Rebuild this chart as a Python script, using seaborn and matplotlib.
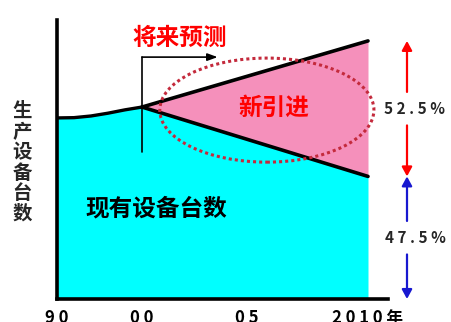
import numpy as np
import matplotlib
matplotlib.use("Agg")
import matplotlib.pyplot as plt
import seaborn as sns
from matplotlib.patches import Ellipse
from matplotlib.transforms import blended_transform_factory

# Installed equipment index (top of the axis = 100)
hist_years = [1990, 1992, 1994, 1996, 1998, 2000]
hist_units = [64.9, 65.0, 65.6, 66.6, 67.8, 68.8]
proj_years = [2000, 2010]
total_2010 = 92.5
existing_share = 47.5   # % of 2010 base still made of existing equipment
new_share = 52.5        # % of 2010 base newly introduced
tick_years = [1990, 2000, 2005, 2010]
tick_labels = ["9 0", "0 0", "0 5", "2 0 1 0 年"]
ylabel = "生产设备台数"

existing_2010 = total_2010 * existing_share / 100
base_2000 = hist_units[-1]
proj_total = [base_2000, total_2010]
proj_existing = [base_2000, existing_2010]

sns.set_style("white")
plt.rcParams["font.family"] = ["Noto Sans CJK SC", "DejaVu Sans"]

W, H = 451, 322
fig = plt.figure(figsize=(W / 100, H / 100), dpi=100)
ax = fig.add_axes([57 / W, 23 / H, 331 / W, 279 / H])

# time axis: the past decade is compressed, the forecast period stretched
axis_years = [1980, 1990, 2000, 2005, 2010, 2020]
axis_pos = [-85, 0, 85, 190, 311, 553]
ax.set_xscale("function",
              functions=(lambda x: np.interp(x, axis_years, axis_pos),
                         lambda p: np.interp(p, axis_pos, axis_years)))
ax.set_xlim(1990, 2010 + 20 / 24.2)
ax.set_ylim(0, 100)

CYAN = "#00FFFF"
PINK = "#F590BB"
RED = "#FF0000"
BLUE = "#1818D0"

# existing equipment area
ex_years = hist_years + proj_years[1:]
ex_units = hist_units + [existing_2010]
ax.fill_between(ex_years, 0, ex_units, color=CYAN, lw=0, zorder=1)
# newly introduced equipment area
ax.fill_between(proj_years, proj_existing, proj_total, color=PINK, lw=0, zorder=1)

sns.lineplot(x=hist_years, y=hist_units, ax=ax, color="black", lw=2.4,
             sort=False, zorder=3)
sns.lineplot(x=proj_years, y=proj_total, ax=ax, color="black", lw=2.6,
             sort=False, zorder=3)
sns.lineplot(x=proj_years, y=proj_existing, ax=ax, color="black", lw=2.6,
             sort=False, zorder=3)

# forecast marker
ax.plot([2000, 2000], [52.7, 86.7], color="black", lw=1.2, zorder=4)
ax.annotate("", xy=(2003.6, 86.7), xytext=(2000, 86.7),
            arrowprops=dict(arrowstyle="-|>,head_length=0.6,head_width=0.22",
                            color="black", lw=1.2, shrinkA=0, shrinkB=0),
            zorder=4)

# dotted highlight around the new-equipment wedge
ax.add_patch(Ellipse((0.634, 0.677), 0.647, 0.373, transform=ax.transAxes,
                     fill=False, ec="#C42A3C", lw=2.2, ls=(0, (1, 1.0)),
                     zorder=5, clip_on=False))

# axes styling
for side in ("top", "right"):
    ax.spines[side].set_visible(False)
for side in ("left", "bottom"):
    ax.spines[side].set_linewidth(2.6)
    ax.spines[side].set_color("black")
    ax.spines[side].set_zorder(6)

ax.set_xticks(tick_years)
ax.set_xticklabels(tick_labels, fontsize=12, fontweight="bold")
ax.tick_params(axis="x", direction="in", length=7, width=1.3, pad=7,
               colors="black")
ticks = ax.xaxis.get_major_ticks()
for i in (0, len(ticks) - 1):
    ticks[i].tick1line.set_visible(False)
ax.set_yticks([29.4, 55.2])
ax.set_yticklabels([])
ax.tick_params(axis="y", direction="in", length=3, width=1.0, colors="black")

# labels
fig.text(22 / W, 1 - 163 / H, "\n".join(ylabel), fontsize=14,
         fontweight="bold", ha="center", va="center", linespacing=1.1)
fig.text(180 / W, 1 - 38 / H, "将来预测", color=RED, fontsize=17,
         fontweight="bold", ha="center", va="center")
fig.text(274 / W, 1 - 108 / H, "新引进", color=RED, fontsize=17,
         fontweight="bold", ha="center", va="center")
fig.text(156 / W, 1 - 208 / H, "现有设备台数", color="black", fontsize=17,
         fontweight="bold", ha="center", va="center")

# share arrows on the right, tied to the 2010 values
trans = blended_transform_factory(fig.transFigure, ax.transData)
xa = 407 / W
xt = 415 / W
gap = 6
mid_new = (total_2010 + existing_2010) / 2
mid_old = existing_2010 / 2
head = "-|>,head_length=0.55,head_width=0.3"
for y0, y1, c in [(mid_new + gap, total_2010, RED),
                  (mid_new - gap, existing_2010, RED),
                  (mid_old + gap, existing_2010, BLUE),
                  (mid_old - gap, 0, BLUE)]:
    ax.annotate("", xy=(xa, y1), xycoords=trans, xytext=(xa, y0),
                textcoords=trans,
                arrowprops=dict(arrowstyle=head, color=c, lw=1.6,
                                shrinkA=0, shrinkB=0))
ax.text(xt, mid_new, " ".join(f"{new_share}%"), transform=trans,
        fontsize=11, fontweight="bold", ha="center", va="center")
ax.text(xt, mid_old, " ".join(f"{existing_share}%"), transform=trans,
        fontsize=11, fontweight="bold", ha="center", va="center")

fig.savefig("out.png", dpi=100)
